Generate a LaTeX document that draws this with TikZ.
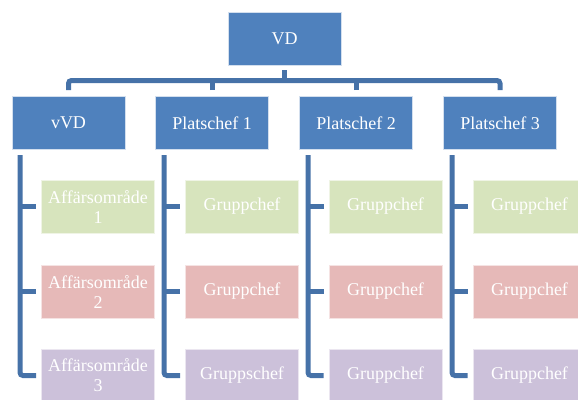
\documentclass[tikz,border=0pt]{standalone}
\usepackage{fontspec}
\setmainfont{Liberation Serif}
\definecolor{boxblue}{HTML}{4F81BD}
\definecolor{lineblue}{HTML}{4672A8}
\definecolor{cgreen}{HTML}{D7E4BD}
\definecolor{cred}{HTML}{E6B9B8}
\definecolor{cpurple}{HTML}{CCC1DA}
\tikzset{
  orgbox/.style={rectangle, draw=white!75!boxblue, line width=0.6pt,
    minimum width=113pt, minimum height=53pt, inner sep=0pt,
    text=white, font=\fontsize{18}{20}\selectfont, align=center},
  topbox/.style={orgbox, fill=boxblue},
  greenbox/.style={orgbox, fill=cgreen, draw=white!60!cgreen},
  redbox/.style={orgbox, fill=cred, draw=white!60!cred},
  purplebox/.style={orgbox, fill=cpurple, draw=white!60!cpurple},
  conn/.style={draw=lineblue, line width=5pt},
}
\begin{document}
\begin{tikzpicture}[x=1pt,y=-1pt]
\useasboundingbox (0,0) rectangle (578,399);
\clip (0,0) rectangle (578,399);
% top
\node[topbox] (vd) at (284.5,38.5) {VD};
% level 2
\node[topbox] (vvd) at (68.5,123) {vVD};
\node[topbox] (p1) at (212,123) {Platschef 1};
\node[topbox] (p2) at (356,123) {Platschef 2};
\node[topbox] (p3) at (500,123) {Platschef 3};
% children
\node[greenbox]  (a1) at (98,206.5) {Affärsområde\\1};
\node[redbox]    (a2) at (98,291.5) {Affärsområde\\2};
\node[purplebox] (a3) at (98,375.5) {Affärsområde\\3};
\node[greenbox]  (b1) at (242,206.5) {Gruppchef};
\node[redbox]    (b2) at (242,291.5) {Gruppchef};
\node[purplebox] (b3) at (242,375.5) {Gruppschef};
\node[greenbox]  (c1) at (385.5,206.5) {Gruppchef};
\node[redbox]    (c2) at (385.5,291.5) {Gruppchef};
\node[purplebox] (c3) at (385.5,375.5) {Gruppchef};
\node[greenbox]  (d1) at (529.5,206.5) {Gruppchef};
\node[redbox]    (d2) at (529.5,291.5) {Gruppchef};
\node[purplebox] (d3) at (529.5,375.5) {Gruppchef};
% bus
\coordinate (bus) at (0,80.5);
\draw[conn] ([yshift=-5pt]vd.south) -- (vd.south |- bus);
\draw[conn, rounded corners=3pt] ([yshift=6pt]vvd.north) -- (vvd.north |- bus) -- (p3.north |- bus) -- ([yshift=6pt]p3.north);
\draw[conn] ([yshift=6pt]p1.north) -- (p1.north |- bus);
\draw[conn] ([yshift=6pt]p2.north) -- (p2.north |- bus);
% column lines
\coordinate (ta) at (20,155);
\coordinate (tb) at (164,155);
\coordinate (tc) at (308,155);
\coordinate (td) at (452,155);
\foreach \t/\c in {ta/a,tb/b,tc/c,td/d}{
  \draw[conn, rounded corners=3pt] (\t) |- ([xshift=-5pt]\c3.west);
  \draw[conn] (\t |- \c1.west) -- ([xshift=-5pt]\c1.west);
  \draw[conn] (\t |- \c2.west) -- ([xshift=-5pt]\c2.west);
}
\end{tikzpicture}
\end{document}
